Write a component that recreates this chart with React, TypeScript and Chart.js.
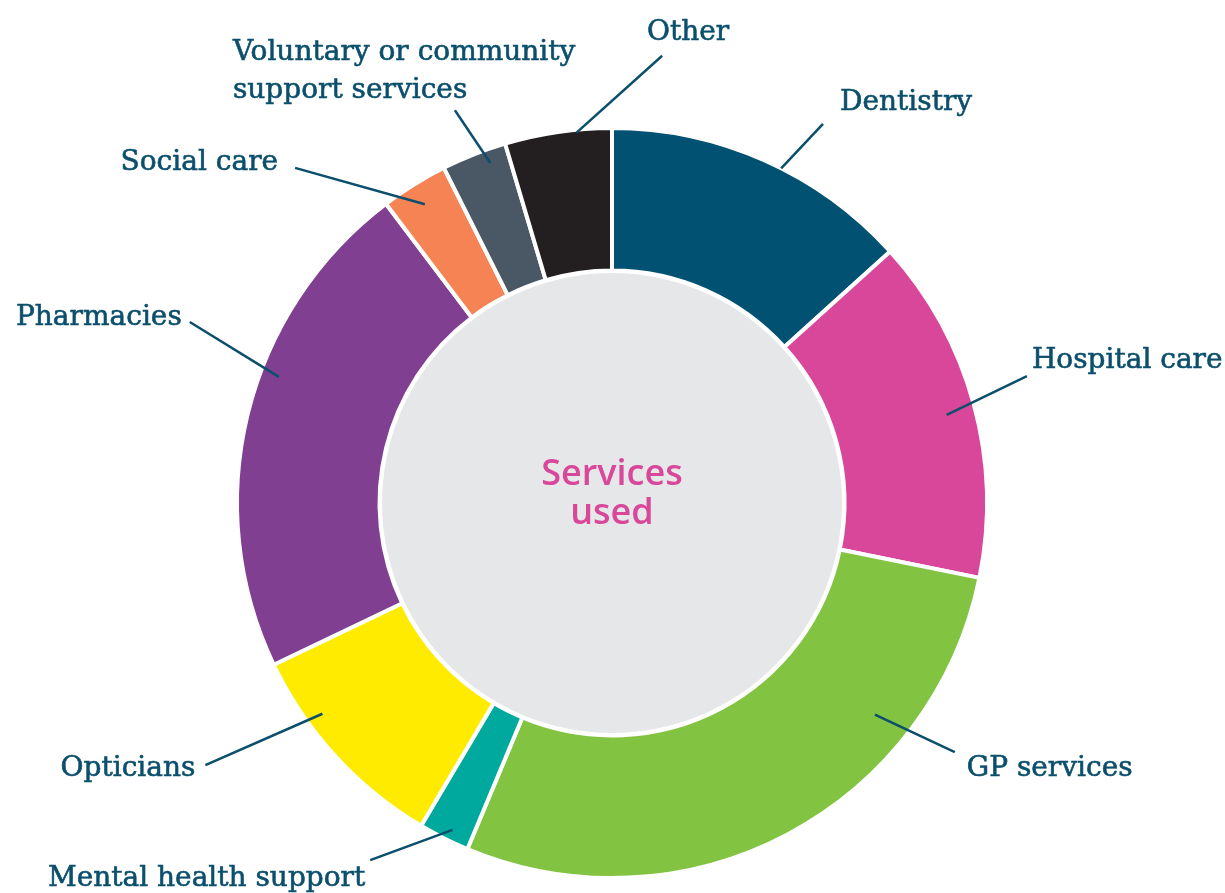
import React, { useEffect, useRef } from "react";
import { Chart, registerables } from "chart.js";

Chart.register(...registerables);

const categories = [
  "Dentistry",
  "Hospital care",
  "GP services",
  "Mental health support",
  "Opticians",
  "Pharmacies",
  "Social care",
  "Voluntary or community support services",
  "Other",
];
const values = [13.3, 14.9, 28.1, 2.2, 9.4, 21.8, 2.9, 2.8, 4.6];
const labelLines = [
  ["Dentistry"],
  ["Hospital care"],
  ["GP services"],
  ["Mental health support"],
  ["Opticians"],
  ["Pharmacies"],
  ["Social care"],
  ["Voluntary or community", "support services"],
  ["Other"],
];
const centerTitle = ["Services", "used"];

const colors = [
  "#005172",
  "#d9479a",
  "#82c341",
  "#00a99d",
  "#ffeb00",
  "#803f91",
  "#f58354",
  "#4a5866",
  "#231f20",
];

// Annotation layout: t = position along arc span, ri = inner radius fraction,
// ao = outer end angle (deg from top, clockwise), ro = outer radius fraction,
// dx/dy = text offset from outer end, align
const leaderLayout = [
  { t: 0.56, ri: 1.0, ao: 29.1, ro: 1.157, dx: 17, dy: -14, align: "left" },
  { t: 0.51, ri: 0.923, ao: 73.0, ro: 1.157, dx: 5, dy: -8, align: "left" },
  { t: 0.27, ri: 0.9, ao: 126.0, ro: 1.13, dx: 12, dy: 24, align: "left" },
  { t: 0.42, ri: 0.97, ao: 214.1, ro: 1.15, dx: -5, dy: 26, align: "right" },
  { t: 0.69, ri: 0.955, ao: 237.2, ro: 1.29, dx: -10, dy: 11, align: "right" },
  { t: 0.59, ri: 0.95, ao: 293.2, ro: 1.225, dx: -8, dy: 3, align: "right" },
  { t: 0.48, ri: 0.94, ao: 316.6, ro: 1.23, dx: -17, dy: 2, align: "right" },
  { t: 0.69, ri: 0.963, ao: 338.2, ro: 1.128, dx: -222, dy: -50, align: "left" },
  { t: 0.67, ri: 0.992, ao: 6.4, ro: 1.2, dx: 26, dy: -16, align: "center" },
];

const TEXT_COLOR = "#0b4f6c";

const overlayPlugin = {
  id: "overlay",
  beforeDatasetsDraw(chart: any) {
    const meta = chart.getDatasetMeta(0);
    const a0 = meta.data[0];
    if (!a0) return;
    const ctx = chart.ctx;
    ctx.save();
    ctx.beginPath();
    ctx.arc(a0.x, a0.y, a0.innerRadius - 2.5, 0, Math.PI * 2);
    ctx.fillStyle = "#e6e7e8";
    ctx.fill();
    ctx.restore();
  },
  afterDatasetsDraw(chart: any) {
    const meta = chart.getDatasetMeta(0);
    const ctx = chart.ctx;
    const a0 = meta.data[0];
    if (!a0) return;
    const cx = a0.x;
    const cy = a0.y;
    const R = a0.outerRadius;
    ctx.save();
    // center title
    ctx.fillStyle = "#d9479a";
    ctx.font = "600 36px 'Open Sans'";
    ctx.textAlign = "center";
    ctx.textBaseline = "alphabetic";
    ctx.fillText(centerTitle[0], cx, cy - 18);
    ctx.fillText(centerTitle[1], cx, cy + 21);

    ctx.strokeStyle = TEXT_COLOR;
    ctx.fillStyle = TEXT_COLOR;
    ctx.font = "28px 'DejaVu Serif'";
    meta.data.forEach((arc: any, i: number) => {
      const L = leaderLayout[i];
      const ang = arc.startAngle + L.t * (arc.endAngle - arc.startAngle);
      const x1 = cx + Math.cos(ang) * R * L.ri;
      const y1 = cy + Math.sin(ang) * R * L.ri;
      const ao = (L.ao * Math.PI) / 180 - Math.PI / 2;
      const x2 = cx + Math.cos(ao) * R * L.ro;
      const y2 = cy + Math.sin(ao) * R * L.ro;
      ctx.lineWidth = 2.5;
      ctx.beginPath();
      ctx.moveTo(x1, y1);
      ctx.lineTo(x2, y2);
      ctx.stroke();
      ctx.textAlign = L.align;
      ctx.lineWidth = 0.6;
      const lines = labelLines[i];
      lines.forEach((ln: string, k: number) => {
        const ty = y2 + L.dy + k * 38;
        ctx.fillText(ln, x2 + L.dx, ty);
        ctx.strokeText(ln, x2 + L.dx, ty);
      });
    });
    ctx.restore();
  },
};

export default function App() {
  const ref = useRef<HTMLCanvasElement | null>(null);
  useEffect(() => {
    if (!ref.current) return;
    const chart = new Chart(ref.current, {
      type: "doughnut",
      data: {
        labels: categories,
        datasets: [
          {
            data: values,
            backgroundColor: colors,
            borderColor: "#ffffff",
            borderWidth: 4,
          },
        ],
      },
      options: {
        animation: false,
        responsive: true,
        maintainAspectRatio: false,
        cutout: "62%",
        layout: { padding: { left: 235, right: 236, top: 126, bottom: 13 } },
        plugins: {
          legend: { display: false },
          tooltip: { enabled: false },
        },
      },
      plugins: [overlayPlugin],
    } as any);
    return () => chart.destroy();
  }, []);
  return (
    <div
      style={{
        position: "absolute",
        left: 0,
        top: 0,
        width: 1225,
        height: 893,
        background: "#ffffff",
      }}
    >
      <canvas ref={ref} />
    </div>
  );
}
